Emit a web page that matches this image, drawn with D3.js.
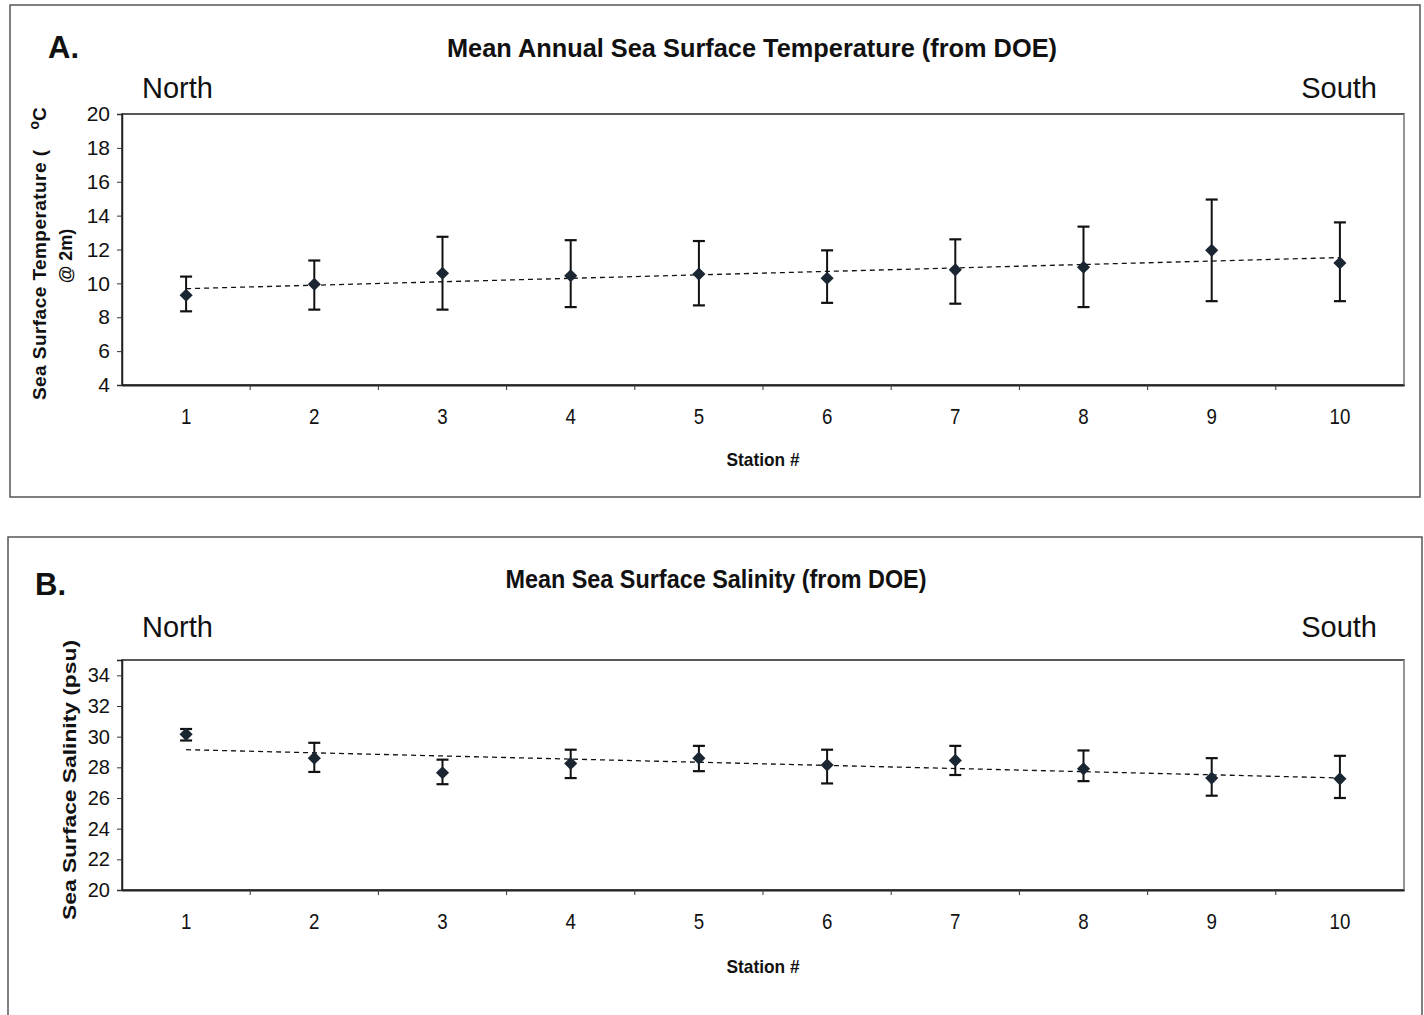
<!DOCTYPE html>
<html>
<head>
<meta charset="utf-8">
<title>Sea surface temperature and salinity by station</title>
<script src="https://d3js.org/d3.v7.min.js"></script>
<style>
  body { margin: 0; background: #fff; }
  svg text { fill: #111; }
  .narrow { font-family: "Liberation Sans Narrow", "Arial Narrow", "Liberation Sans", Arial, sans-serif; }
  .sans { font-family: "Liberation Sans", Arial, sans-serif; }
</style>
</head>
<body>
<script>
// station numbers (x categories)
const stations = [1, 2, 3, 4, 5, 6, 7, 8, 9, 10];

// panel A: mean annual SST (deg C) with error bar ends
const tempMean = [9.3, 9.95, 10.6, 10.45, 10.55, 10.3, 10.8, 10.95, 11.95, 11.2];
const tempHigh = [10.4, 11.35, 12.75, 12.55, 12.5, 11.95, 12.6, 13.35, 14.95, 13.6];
const tempLow  = [8.35, 8.45, 8.45, 8.6, 8.7, 8.85, 8.8, 8.6, 8.95, 8.95];
const tempTicks = [4, 6, 8, 10, 12, 14, 16, 18, 20];

// panel B: mean sea surface salinity (psu) with error bar ends
const salMean = [30.15, 28.6, 27.65, 28.25, 28.6, 28.15, 28.45, 27.9, 27.3, 27.25];
const salHigh = [30.5, 29.6, 28.5, 29.15, 29.4, 29.15, 29.4, 29.1, 28.6, 28.75];
const salLow  = [29.75, 27.7, 26.9, 27.3, 27.75, 26.95, 27.5, 27.1, 26.15, 26.0];
const salTicks = [20, 22, 24, 26, 28, 30, 32, 34];

const W = 1424, H = 1015;
const svg = d3.select("body").append("svg")
    .attr("width", W).attr("height", H);

// least squares trend, like the spreadsheet's linear trendline
function trend(xs, ys) {
    let mx = d3.mean(xs), my = d3.mean(ys);
    let sxy = d3.sum(xs, (x, i) => (x - mx) * (ys[i] - my));
    let sxx = d3.sum(xs, x => (x - mx) * (x - mx));
    let b = sxy / sxx;
    return [xs[0], xs[xs.length - 1]].map(x => [x, my + b * (x - mx)]);
}

function drawPanel(p) {
    let g = svg.append("g");

    // outer frame of the panel
    g.append("rect")
        .attr("x", p.frame[0]).attr("y", p.frame[1])
        .attr("width", p.frame[2]).attr("height", p.frame[3])
        .attr("fill", "none").attr("stroke", "#555").attr("stroke-width", 1.5);

    let x = d3.scaleBand().domain(stations).range([p.left, p.right]);
    let y = d3.scaleLinear().domain(p.domain).range([p.bottom, p.top]);
    let cx = d => x(d) + x.bandwidth() / 2;

    // plot area
    g.append("rect")
        .attr("x", p.left).attr("y", p.top)
        .attr("width", p.right - p.left).attr("height", p.bottom - p.top)
        .attr("fill", "#fff").attr("stroke", "#222").attr("stroke-width", 1.5);
    g.append("line")
        .attr("x1", p.right).attr("x2", p.right)
        .attr("y1", p.top).attr("y2", p.bottom)
        .attr("stroke", "#aaa").attr("stroke-width", 1.5);

    // y axis
    let yAxis = g.append("g")
        .attr("transform", `translate(${p.left},0)`)
        .call(d3.axisLeft(y).tickValues(p.ticks).tickSize(5).tickPadding(7));
    yAxis.select(".domain").attr("stroke", "#222").attr("stroke-width", 1.5);
    yAxis.selectAll(".tick line").attr("stroke", "#333");
    yAxis.selectAll("text").attr("class", "sans")
        .style("font-size", p.yFontSize + "px").attr("fill", "#111");

    // x axis: ticks sit between stations
    let xAxis = g.append("g")
        .attr("transform", `translate(0,${p.bottom})`)
        .call(d3.axisBottom(x).tickSize(0).tickPadding(23));
    xAxis.select(".domain").attr("stroke", "#222").attr("stroke-width", 1.8);
    xAxis.selectAll("text").attr("class", "narrow")
        .style("font-size", "22px").attr("fill", "#111")
        .attr("transform", "scale(0.85,1)")
        .attr("x", function () { return 0; });
    xAxis.selectAll(".tick").each(function () {
        let t = d3.select(this);
        let tx = +t.attr("transform").match(/translate\(([-\d.]+)/)[1];
        t.attr("transform", `translate(${tx},0) scale(0.85,1)`);
        t.select("text").attr("transform", null);
    });
    g.selectAll(".xsep")
        .data(stations.slice(1))
        .join("line")
        .attr("x1", d => x(d)).attr("x2", d => x(d))
        .attr("y1", p.bottom).attr("y2", p.bottom + 5)
        .attr("stroke", "#333");

    // dashed trendline
    let tl = trend(stations, p.mean);
    g.append("path")
        .attr("d", d3.line().x(d => cx(d[0])).y(d => y(d[1]))(tl))
        .attr("fill", "none").attr("stroke", "#111")
        .attr("stroke-width", 1.3).attr("stroke-dasharray", "5,4");

    // error bars
    let eb = g.append("g").selectAll("g")
        .data(stations)
        .join("g");
    eb.append("line")
        .attr("x1", d => cx(d)).attr("x2", d => cx(d))
        .attr("y1", (d, i) => y(p.high[i])).attr("y2", (d, i) => y(p.low[i]))
        .attr("stroke", "#111").attr("stroke-width", 2);
    eb.append("line")
        .attr("x1", d => cx(d) - 6).attr("x2", d => cx(d) + 6)
        .attr("y1", (d, i) => y(p.high[i])).attr("y2", (d, i) => y(p.high[i]))
        .attr("stroke", "#111").attr("stroke-width", 2.2);
    eb.append("line")
        .attr("x1", d => cx(d) - 6).attr("x2", d => cx(d) + 6)
        .attr("y1", (d, i) => y(p.low[i])).attr("y2", (d, i) => y(p.low[i]))
        .attr("stroke", "#111").attr("stroke-width", 2.2);

    // diamond markers
    g.append("g").selectAll("path")
        .data(stations)
        .join("path")
        .attr("d", d3.symbol(d3.symbolDiamond2, 110))
        .attr("transform", (d, i) => `translate(${cx(d)},${y(p.mean[i])})`)
        .attr("fill", "#1b2633");

    // texts
    g.append("text").attr("class", "sans")
        .attr("x", p.letterX).attr("y", p.letterY)
        .style("font-size", "31px").style("font-weight", "bold")
        .text(p.letter);
    g.append("text").attr("class", "narrow")
        .attr("x", p.titleX).attr("y", p.titleY)
        .attr("text-anchor", "middle")
        .attr("textLength", p.titleLen).attr("lengthAdjust", "spacingAndGlyphs")
        .style("font-size", "25px").style("font-weight", "bold")
        .text(p.title);
    g.append("text").attr("class", "sans")
        .attr("x", 142).attr("y", p.nsY)
        .style("font-size", "29px")
        .text("North");
    g.append("text").attr("class", "sans")
        .attr("x", 1377).attr("y", p.nsY)
        .attr("text-anchor", "end")
        .style("font-size", "29px")
        .text("South");
    g.append("text").attr("class", "narrow")
        .attr("x", 763).attr("y", p.xLabelY)
        .attr("text-anchor", "middle")
        .attr("textLength", 73).attr("lengthAdjust", "spacingAndGlyphs")
        .style("font-size", "19px").style("font-weight", "bold")
        .text("Station #");

    return g;
}

let gA = drawPanel({
    frame: [10, 5, 1410, 492],
    left: 122, right: 1404, top: 114, bottom: 385,
    domain: [4, 20], ticks: tempTicks,
    mean: tempMean, high: tempHigh, low: tempLow,
    yFontSize: 21,
    letter: "A.", letterX: 48, letterY: 58,
    title: "Mean Annual Sea Surface Temperature (from DOE)",
    titleX: 752, titleY: 57, titleLen: 610,
    nsY: 98, xLabelY: 466
});

// two-line y label for panel A
let yl = gA.append("text").attr("class", "sans")
    .attr("transform", "translate(46,400) rotate(-90)")
    .style("font-size", "19px").style("font-weight", "bold");
yl.append("tspan").attr("textLength", 250).text("Sea Surface Temperature (");
yl.append("tspan").attr("dx", 20).attr("dy", -7).style("font-size", "14px").text("o");
yl.append("tspan").attr("dy", 7).text("C");
gA.append("text").attr("class", "sans")
    .attr("transform", "translate(72,256) rotate(-90)")
    .attr("text-anchor", "middle")
    .style("font-size", "18px").style("font-weight", "bold")
    .text("@ 2m)");

let gB = drawPanel({
    frame: [8, 537, 1414, 490],
    left: 122, right: 1404, top: 660, bottom: 890,
    domain: [20, 35], ticks: salTicks,
    mean: salMean, high: salHigh, low: salLow,
    yFontSize: 20,
    letter: "B.", letterX: 35, letterY: 595,
    title: "Mean Sea Surface Salinity (from DOE)",
    titleX: 716, titleY: 588, titleLen: 421,
    nsY: 637, xLabelY: 973
});

gB.append("text").attr("class", "sans")
    .attr("transform", "translate(76,780) rotate(-90)")
    .attr("text-anchor", "middle")
    .attr("textLength", 280).attr("lengthAdjust", "spacingAndGlyphs")
    .style("font-size", "19px").style("font-weight", "bold")
    .text("Sea Surface Salinity (psu)");
</script>
</body>
</html>
